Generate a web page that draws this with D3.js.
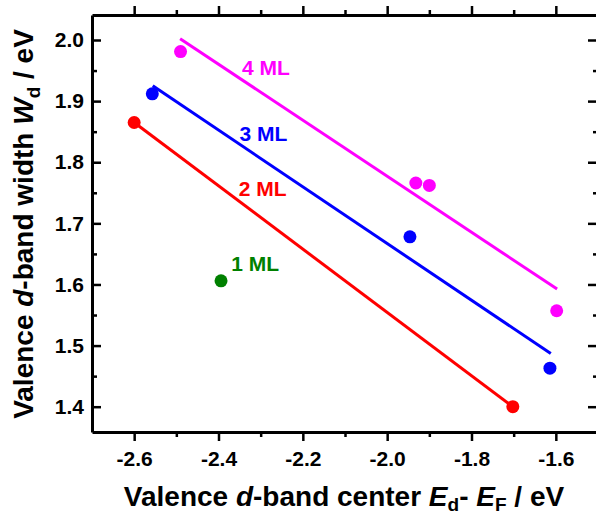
<!DOCTYPE html>
<html><head><meta charset="utf-8">
<script src="https://cdn.jsdelivr.net/npm/d3@7"></script>
<style>body{margin:0;background:#fff}svg{display:block}text{font-family:"Liberation Sans",Arial,sans-serif;font-weight:bold}</style>
</head><body><svg id="c" width="596" height="516"></svg>
<script>
// Data
const seriesNames = ["1 ML", "2 ML", "3 ML", "4 ML"];
const seriesColors = ["#008000", "#ff0000", "#0000ff", "#ff00ff"];
const x1ML = [-2.394], y1ML = [1.606];
const x2ML = [-2.600, -1.702], y2ML = [1.865, 1.400];
const x3ML = [-2.557, -1.946, -1.614], y3ML = [1.912, 1.678, 1.463];
const x4ML = [-2.490, -1.932, -1.900, -1.598], y4ML = [1.981, 1.766, 1.762, 1.557];
// linear-fit line end points
const fit2X = [-2.600, -1.702], fit2Y = [1.865, 1.400];
const fit3X = [-2.556, -1.612], fit3Y = [1.925, 1.487];
const fit4X = [-2.491, -1.597], fit4Y = [2.002, 1.5925];
// annotation anchors (data units)
const labelX = [-2.370, -2.352, -2.350, -2.344];
const labelY = [1.622, 1.745, 1.835, 1.943];
const xMajorTicks = [-2.6, -2.4, -2.2, -2.0, -1.8, -1.6];
const xMinorTicks = [-2.5, -2.3, -2.1, -1.9, -1.7];
const yMajorTicks = [1.4, 1.5, 1.6, 1.7, 1.8, 1.9, 2.0];
const yMinorTicks = [1.45, 1.55, 1.65, 1.75, 1.85, 1.95];

const svg = d3.select("#c");
const L = 92, R = 598, T = 15, B = 432;
const x = d3.scaleLinear().domain([-2.7, -1.5]).range([L, R]);
const y = d3.scaleLinear().domain([1.3586, 2.0409]).range([B, T]);

function axisStyle(g) {
  g.select(".domain").attr("stroke", "#000").attr("stroke-width", 3);
  g.selectAll(".tick line").attr("stroke", "#000").attr("stroke-width", 2.5);
  g.selectAll(".tick text").attr("fill", "#000").style("font-size", "21px");
}
function minor(g) {
  g.select(".domain").remove();
  g.selectAll("line").attr("stroke", "#000").attr("stroke-width", 2.5);
}
const fmt = d => d3.format(".1f")(d).replace("\u2212", "-");
// bottom
const gb = svg.append("g").attr("transform", `translate(0,${B})`);
gb.call(d3.axisBottom(x).tickValues(xMajorTicks).tickSize(9).tickSizeOuter(0).tickPadding(10).tickFormat(fmt));
axisStyle(gb);
svg.append("g").attr("transform", `translate(0,${B})`)
  .call(d3.axisBottom(x).tickValues(xMinorTicks).tickSize(5).tickSizeOuter(0).tickFormat("")).call(minor);
// top
const gt = svg.append("g").attr("transform", `translate(0,${T})`);
gt.call(d3.axisTop(x).tickValues(xMajorTicks).tickSize(9).tickSizeOuter(0).tickFormat(""));
axisStyle(gt);
svg.append("g").attr("transform", `translate(0,${T})`)
  .call(d3.axisTop(x).tickValues(xMinorTicks).tickSize(5).tickSizeOuter(0).tickFormat("")).call(minor);
// left (ticks inward)
const gl = svg.append("g").attr("transform", `translate(${L},0)`);
gl.call(d3.axisLeft(y).tickValues(yMajorTicks).tickSize(-9).tickSizeOuter(0).tickFormat(fmt));
axisStyle(gl);
gl.selectAll(".tick text").attr("x", -8);
svg.append("g").attr("transform", `translate(${L},0)`)
  .call(d3.axisLeft(y).tickValues(yMinorTicks).tickSize(-5).tickSizeOuter(0).tickFormat("")).call(minor);
// right (ticks inward)
const gr = svg.append("g").attr("transform", `translate(${R},0)`);
gr.call(d3.axisRight(y).tickValues(yMajorTicks).tickSize(-10).tickSizeOuter(0).tickFormat(""));
axisStyle(gr);
svg.append("g").attr("transform", `translate(${R},0)`)
  .call(d3.axisRight(y).tickValues(yMinorTicks).tickSize(-5).tickSizeOuter(0).tickFormat("")).call(minor);

// fit lines
const line = d3.line().x(d => x(d[0])).y(d => y(d[1]));
const fits = [[fit2X, fit2Y, 1], [fit3X, fit3Y, 2], [fit4X, fit4Y, 3]];
fits.forEach(([fx, fy, i]) => {
  svg.append("path").datum(d3.zip(fx, fy)).attr("d", line)
    .attr("fill", "none").attr("stroke", seriesColors[i]).attr("stroke-width", 3);
});
// points
const pts = [[x1ML, y1ML], [x2ML, y2ML], [x3ML, y3ML], [x4ML, y4ML]];
pts.forEach(([px, py], i) => {
  svg.append("g").selectAll("circle").data(d3.zip(px, py)).join("circle")
    .attr("cx", d => x(d[0])).attr("cy", d => y(d[1])).attr("r", 6.5)
    .attr("fill", seriesColors[i]);
});
// labels
seriesNames.forEach((n, i) => {
  svg.append("text").attr("x", x(labelX[i])).attr("y", y(labelY[i]))
    .attr("fill", seriesColors[i]).style("font-size", "21px").text(n);
});

// axis titles
const xt = svg.append("text").attr("x", 344).attr("y", 506).attr("text-anchor", "middle").style("font-size", "28px").attr("fill", "#000");
xt.append("tspan").text("Valence ");
xt.append("tspan").attr("font-style", "italic").text("d");
xt.append("tspan").text("-band center ");
xt.append("tspan").attr("font-style", "italic").text("E");
xt.append("tspan").attr("dy", 5).style("font-size", "19px").text("d");
xt.append("tspan").attr("dy", -5).text("- ");
xt.append("tspan").attr("font-style", "italic").text("E");
xt.append("tspan").attr("dy", 5).style("font-size", "19px").text("F");
xt.append("tspan").attr("dy", -5).text(" / eV");

const yt = svg.append("text").attr("transform", "translate(33,224) rotate(-90)").attr("text-anchor", "middle").style("font-size", "28px").attr("fill", "#000");
yt.append("tspan").text("Valence ");
yt.append("tspan").attr("font-style", "italic").text("d");
yt.append("tspan").text("-band width ");
yt.append("tspan").attr("font-style", "italic").text("W");
yt.append("tspan").attr("dy", 7).style("font-size", "19px").text("d");
yt.append("tspan").attr("dy", -7).text(" / eV");
</script></body></html>
